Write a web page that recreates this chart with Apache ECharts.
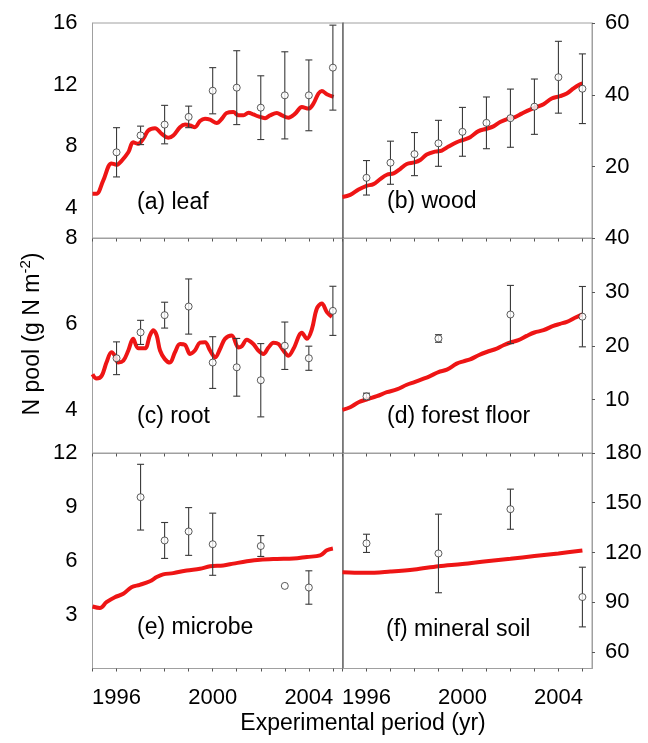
<!DOCTYPE html>
<html>
<head>
<meta charset="utf-8">
<script src="https://cdn.jsdelivr.net/npm/echarts@6/dist/echarts.min.js"></script>
<style>
  html, body { margin: 0; padding: 0; background: #fff; }
  #chart { width: 648px; height: 743px; }
</style>
</head>
<body>
<div id="chart"></div>
<script>
// ---------- Data ----------
const xTickYears = [1995, 1996, 1997, 1998, 1999, 2000, 2001, 2002, 2003, 2004, 2005];
const xTickLabels = [1996, 2000, 2004];

// (a) leaf
const leafObsX = [1996, 1997, 1998, 1999, 2000, 2001, 2002, 2003, 2004, 2005];
const leafObs  = [7.6, 8.7, 9.4, 9.9, 11.6, 11.8, 10.5, 11.3, 11.3, 13.1];
const leafErr  = [1.6, 0.6, 1.25, 0.7, 1.5, 2.4, 2.07, 2.83, 2.3, 2.76];
const leafModel = [
  [1995.0, 4.91], [1995.17, 4.91], [1995.44, 5.74], [1995.79, 6.88], [1996.0, 6.79],
  [1996.21, 7.05], [1996.49, 7.6], [1996.69, 8.25], [1996.9, 8.15], [1997.11, 8.47],
  [1997.32, 9.02], [1997.6, 9.17], [1997.88, 8.8], [1998.15, 8.54], [1998.36, 8.69],
  [1998.64, 9.23], [1998.85, 9.41], [1999.06, 9.34], [1999.26, 9.23], [1999.47, 9.63],
  [1999.68, 9.78], [1999.89, 9.72], [2000.17, 9.5], [2000.38, 9.78], [2000.58, 10.15],
  [2000.86, 10.21], [2001.07, 10.0], [2001.28, 10.0], [2001.49, 10.17], [2001.69, 10.06],
  [2001.9, 9.93], [2002.18, 9.82], [2002.39, 10.0], [2002.67, 10.15], [2002.88, 10.0],
  [2003.15, 9.85], [2003.43, 10.11], [2003.71, 10.54], [2003.99, 10.44], [2004.19, 10.76],
  [2004.4, 11.42], [2004.54, 11.59], [2004.75, 11.37], [2005.03, 11.2]
];
const leafTicks = [4, 8, 12, 16];

// (b) wood
const woodObsX = [1996, 1997, 1998, 1999, 2000, 2001, 2002, 2003, 2004, 2005];
const woodObs  = [16.9, 21.1, 23.5, 26.5, 29.7, 32.2, 33.5, 36.7, 44.9, 41.7];
const woodErr  = [4.8, 6.0, 6.0, 6.4, 6.8, 7.2, 8.1, 7.7, 10.0, 9.7];
const woodModel = [
  [1995.0, 11.58], [1995.32, 12.14], [1995.67, 13.63], [1996.0, 14.67], [1996.29, 15.14],
  [1996.57, 16.54], [1996.85, 17.75], [1997.13, 18.12], [1997.4, 19.35], [1997.68, 20.75],
  [1998.0, 21.2], [1998.24, 21.87], [1998.51, 23.36], [1998.86, 24.2], [1999.14, 24.48],
  [1999.42, 25.6], [1999.76, 26.8], [2000.04, 27.48], [2000.32, 28.2], [2000.67, 29.9],
  [2001.01, 30.56], [2001.29, 31.21], [2001.57, 32.41], [2001.92, 33.37], [2002.19, 33.82],
  [2002.47, 34.77], [2002.82, 35.89], [2003.1, 36.62], [2003.38, 37.38], [2003.72, 38.97],
  [2004.07, 39.62], [2004.35, 40.38], [2004.63, 41.78], [2004.83, 42.7], [2005.0, 43.18]
];
const woodTicks = [20, 40, 60];

// (c) root
const rootObsX = [1996, 1997, 1998, 1999, 2000, 2001, 2002, 2003, 2004, 2005];
const rootObs  = [5.21, 5.81, 6.21, 6.41, 5.11, 5.0, 4.7, 5.5, 5.21, 6.31];
const rootErr  = [0.38, 0.28, 0.3, 0.64, 0.6, 0.67, 0.85, 0.55, 0.28, 0.57];
const rootModel = [
  [1995.0, 4.84], [1995.17, 4.74], [1995.38, 4.8], [1995.58, 5.11], [1995.79, 5.35],
  [1995.93, 5.27], [1996.07, 5.11], [1996.28, 5.15], [1996.49, 5.39], [1996.69, 5.66],
  [1996.9, 5.44], [1997.18, 5.44], [1997.39, 5.74], [1997.53, 5.86], [1997.67, 5.74],
  [1997.81, 5.39], [1998.01, 5.19], [1998.22, 5.11], [1998.43, 5.35], [1998.64, 5.54],
  [1998.85, 5.52], [1999.06, 5.31], [1999.26, 5.39], [1999.47, 5.57], [1999.68, 5.58],
  [1999.89, 5.39], [2000.1, 5.23], [2000.31, 5.43], [2000.51, 5.66], [2000.79, 5.74],
  [2001.07, 5.46], [2001.21, 5.49], [2001.42, 5.64], [2001.69, 5.54], [2001.9, 5.39],
  [2002.11, 5.31], [2002.32, 5.46], [2002.53, 5.57], [2002.74, 5.54], [2002.94, 5.39],
  [2003.15, 5.27], [2003.36, 5.43], [2003.71, 5.8], [2003.92, 5.66], [2004.13, 5.89],
  [2004.33, 6.36], [2004.54, 6.48], [2004.75, 6.28], [2004.96, 6.17]
];
const rootTicks = [4, 6, 8];

// (d) forest floor
const floorObsX = [1996, 1999, 2002, 2005];
const floorObs  = [10.6, 21.35, 25.8, 25.4];
const floorErr  = [0.6, 0.7, 5.4, 5.6];
const floorModel = [
  [1995.0, 8.1], [1995.32, 8.58], [1995.67, 9.51], [1996.0, 10.02], [1996.43, 10.63],
  [1996.85, 11.38], [1997.26, 11.88], [1997.68, 12.76], [1998.0, 13.25], [1998.38, 13.88],
  [1998.65, 14.37], [1999.0, 15.11], [1999.35, 15.56], [1999.76, 16.68], [2000.04, 17.11],
  [2000.32, 17.48], [2000.67, 18.23], [2001.01, 18.84], [2001.43, 19.47], [2001.71, 20.09],
  [2002.0, 20.6], [2002.33, 21.03], [2002.68, 21.83], [2003.0, 22.46], [2003.38, 22.89],
  [2003.79, 23.69], [2004.07, 24.07], [2004.35, 24.44], [2004.69, 25.19], [2005.0, 25.82]
];
const floorTicks = [10, 20, 30, 40];

// (e) microbe
const microbeObsX = [1997, 1998, 1999, 2000, 2002, 2003, 2004];
const microbeObs  = [9.54, 7.13, 7.63, 6.92, 6.82, 4.6, 4.51];
const microbeErr  = [1.83, 1.0, 1.33, 1.73, 0.58, 0, 0.93];
const microbeModel = [
  [1995.0, 3.45], [1995.31, 3.37], [1995.58, 3.69], [1995.93, 3.97], [1996.28, 4.16],
  [1996.62, 4.53], [1996.97, 4.66], [1997.39, 4.86], [1997.67, 5.09], [1997.94, 5.24],
  [1998.36, 5.31], [1998.92, 5.46], [1999.47, 5.55], [1999.89, 5.69], [2000.44, 5.74],
  [2000.86, 5.84], [2001.42, 5.97], [2001.97, 6.06], [2002.67, 6.1], [2003.36, 6.12],
  [2003.92, 6.21], [2004.47, 6.3], [2004.75, 6.58], [2005.0, 6.68]
];
const microbeTicks = [3, 6, 9, 12];

// (f) mineral soil
const soilObsX = [1996, 1999, 2002, 2005];
const soilObs  = [125.5, 119.4, 146.1, 93.1];
const soilErr  = [5.5, 23.7, 12.1, 18.0];
const soilModel = [
  [1995.0, 108.1], [1995.5, 107.8], [1996.0, 107.7], [1997.0, 108.5], [1998.0, 109.7],
  [1999.0, 111.7], [2000.0, 113.0], [2001.0, 114.7], [2002.0, 116.2], [2003.0, 117.8],
  [2004.0, 119.4], [2005.0, 121.2]
];
const soilTicks = [60, 90, 120, 150, 180];

const panelLabels = ['(a) leaf', '(b) wood', '(c) root', '(d) forest floor', '(e) microbe', '(f) mineral soil'];
const yTitle = 'N pool (g N m';
const ySup = '-2';
const xTitle = 'Experimental period (yr)';

// ---------- Build ----------
const FONT = '"Liberation Sans", Arial, Helvetica, sans-serif';
const GRAY = '#a0a0a0';
const RED = '#ee1515';

const panels = [
  { x: leafObsX, obs: leafObs, err: leafErr, model: leafModel, ticks: leafTicks, min: 2, max: 16, col: 0, row: 0 },
  { x: woodObsX, obs: woodObs, err: woodErr, model: woodModel, ticks: woodTicks, min: 0, max: 60, col: 1, row: 0 },
  { x: rootObsX, obs: rootObs, err: rootErr, model: rootModel, ticks: rootTicks, min: 3, max: 8, col: 0, row: 1 },
  { x: floorObsX, obs: floorObs, err: floorErr, model: floorModel, ticks: floorTicks, min: 0, max: 40, col: 1, row: 1 },
  { x: microbeObsX, obs: microbeObs, err: microbeErr, model: microbeModel, ticks: microbeTicks, min: 0, max: 12, col: 0, row: 2 },
  { x: soilObsX, obs: soilObs, err: soilErr, model: soilModel, ticks: soilTicks, min: 50, max: 180, col: 1, row: 2 }
];

const gridLefts = [92.5, 342.5];
const gridWidths = [250, 249.5];
const gridTops = [23, 238, 453];
const gridHeight = 215.5;

const grids = [], xAxes = [], yAxes = [], series = [];
let yIdx = 0;

function errorRender(params, api) {
  const x = api.value(0), lo = api.value(1), hi = api.value(2);
  if (hi - lo <= 0) return null;
  const t = api.coord([x, hi]);
  const b = api.coord([x, lo]);
  const w = 3.5;
  const st = { stroke: '#3a3a3a', lineWidth: 1.1 };
  return {
    type: 'group',
    children: [
      { type: 'line', shape: { x1: t[0], y1: t[1], x2: b[0], y2: b[1] }, style: st },
      { type: 'line', shape: { x1: t[0] - w, y1: t[1], x2: t[0] + w, y2: t[1] }, style: st },
      { type: 'line', shape: { x1: b[0] - w, y1: b[1], x2: b[0] + w, y2: b[1] }, style: st }
    ]
  };
}

panels.forEach((p, i) => {
  grids.push({
    left: gridLefts[p.col], top: gridTops[p.row],
    width: gridWidths[p.col], height: gridHeight,
    show: true, borderColor: GRAY, borderWidth: 1, backgroundColor: 'transparent'
  });
  const bottom = p.row === 2;
  xAxes.push({
    gridIndex: i, type: 'value', min: 1995, max: 2005.4,
    axisLine: { show: true, onZero: false, lineStyle: { color: GRAY, width: 1 } },
    axisTick: { show: true, customValues: xTickYears, length: 3, inside: false, lineStyle: { color: '#555', width: 1 } },
    axisLabel: { show: bottom, customValues: xTickLabels, formatter: v => String(v), fontSize: 22, fontFamily: FONT, color: '#000', margin: 18 },
    splitLine: { show: false }
  });
  const right = p.col === 1;
  yAxes.push({
    gridIndex: i, type: 'value', min: p.min, max: p.max, position: right ? 'right' : 'left',
    axisLine: { show: true, onZero: false, lineStyle: { color: GRAY, width: 1 } },
    axisTick: { show: right, customValues: p.ticks, length: 3, lineStyle: { color: '#555' } },
    axisLabel: { show: true, customValues: p.ticks, formatter: v => String(v), fontSize: 22, fontFamily: FONT, color: '#000', margin: right ? 13 : 15 },
    splitLine: { show: false }
  });
  const mainY = yIdx++;
  if (right) {
    yAxes.push({
      gridIndex: i, type: 'value', min: 0, max: 1, position: 'left',
      axisLine: { show: true, onZero: false, lineStyle: { color: '#6a6a6a', width: 1.5 } },
      axisTick: { show: false }, axisLabel: { show: false }, splitLine: { show: false }
    });
    yIdx++;
  }
  series.push({
    type: 'line', xAxisIndex: i, yAxisIndex: mainY, data: p.model,
    showSymbol: false, smooth: 0.35, lineStyle: { color: RED, width: 4 },
    silent: true, animation: false, z: 2
  });
  series.push({
    type: 'custom', xAxisIndex: i, yAxisIndex: mainY,
    data: p.x.map((x, k) => [x, p.obs[k] - p.err[k], p.obs[k] + p.err[k]]),
    encode: { x: 0, y: [1, 2] }, renderItem: errorRender, animation: false, z: 3
  });
  series.push({
    type: 'scatter', xAxisIndex: i, yAxisIndex: mainY,
    data: p.x.map((x, k) => [x, p.obs[k]]),
    symbol: 'circle', symbolSize: 7,
    itemStyle: { color: '#fff', borderColor: '#333', borderWidth: 1 },
    animation: false, z: 4
  });
});

const labelPos = [[137, 203], [387, 202], [137, 417], [387, 417], [137, 628], [386, 630]];
const graphics = panelLabels.map((t, i) => ({
  type: 'text', x: labelPos[i][0], y: labelPos[i][1], z: 10,
  style: { text: t, font: '23px ' + FONT, fill: '#000', textAlign: 'left', textVerticalAlign: 'middle' }
}));
graphics.push({
  type: 'text', x: 363, y: 724, z: 10,
  style: { text: xTitle, font: '23px ' + FONT, fill: '#000', textAlign: 'center', textVerticalAlign: 'middle' }
});
graphics.push({
  type: 'text', x: 33, y: 334, rotation: Math.PI / 2, z: 10,
  style: {
    text: '{n|' + yTitle + '}{s|' + ySup + '}{n|)}',
    textAlign: 'center', textVerticalAlign: 'middle', fill: '#000',
    rich: {
      n: { fontSize: 23, fontFamily: FONT, lineHeight: 30, fill: '#000' },
      s: { fontSize: 15, fontFamily: FONT, lineHeight: 15, verticalAlign: 'top', fill: '#000' }
    }
  }
});

const chart = echarts.init(document.getElementById('chart'), null, { renderer: 'canvas' });
chart.setOption({
  animation: false,
  backgroundColor: '#fff',
  grid: grids, xAxis: xAxes, yAxis: yAxes, series: series,
  graphic: graphics
});
</script>
</body>
</html>
